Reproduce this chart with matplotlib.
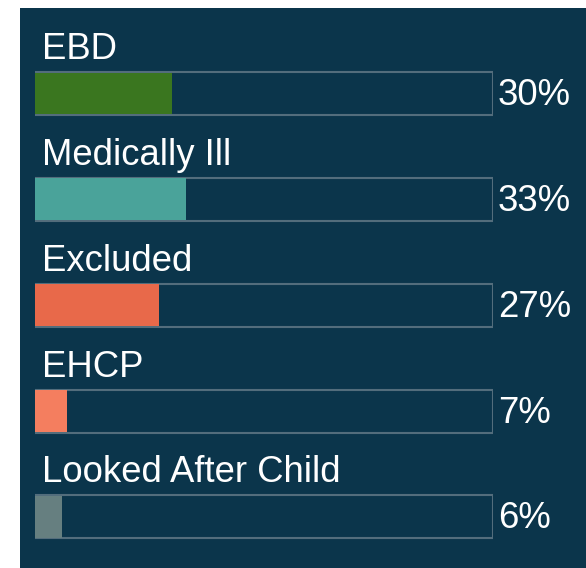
import matplotlib
matplotlib.use("Agg")
import matplotlib.pyplot as plt
from matplotlib.patches import Rectangle

categories = ["EBD", "Medically Ill", "Excluded", "EHCP", "Looked After Child"]
values = [30, 33, 27, 7, 6]
value_labels = ["30%", "33%", "27%", "7%", "6%"]
colors = ["#3a761f", "#4aa39a", "#e8694a", "#f47e5f", "#667f80"]

BG = "#0b354b"
EDGE = "#536d7c"

W, H = 586, 568
fig = plt.figure(figsize=(W / 100, H / 100), dpi=100)
fig.patch.set_facecolor("white")
fig.patches.append(Rectangle((20 / W, 0), 1 - 20 / W, (H - 8) / H,
                             transform=fig.transFigure, facecolor=BG,
                             edgecolor="none", zorder=-10))

ax = fig.add_axes([35 / W, 0, 458 / W, (H - 8) / H])
ax.set_zorder(5)
ax.set_facecolor("none")
ax.set_xlim(0, 100)
ax.set_ylim(4.482, -0.807)
ax.axis("off")

bh = 0.406
ypos = list(range(len(categories)))
ax.barh(ypos, [100] * len(ypos), height=bh, left=0, color=BG,
        edgecolor=EDGE, linewidth=1.5, zorder=1)
ax.barh(ypos, values, height=bh * 0.97, color=colors, edgecolor="none",
        zorder=2)

font = dict(family=["Liberation Sans", "DejaVu Sans"], size=26.3,
            color="white")
for i, (cat, lab) in enumerate(zip(categories, value_labels)):
    ax.annotate(cat, xy=(0, i - bh / 2), xytext=(7, 13),
                textcoords="offset pixels", va="baseline", ha="left",
                annotation_clip=False, **font)
    ax.annotate(lab, xy=(100, i), xytext=(5, -11.5),
                textcoords="offset pixels", va="baseline", ha="left",
                annotation_clip=False, **font)

fig.savefig("out.png", dpi=100, facecolor=fig.get_facecolor())
